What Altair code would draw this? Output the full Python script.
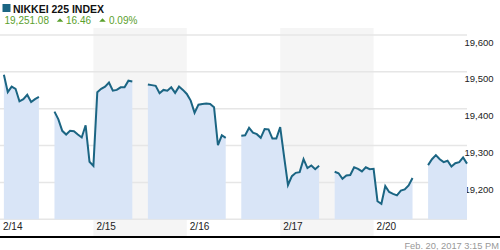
import altair as alt
import pandas as pd

# ---- data ----
DAYS = ["2/14", "2/15", "2/16", "2/17", "2/20"]
AM_TIMES = ["09:15", "09:30", "09:45", "10:00", "10:15", "10:30", "10:45", "11:00", "11:15", "11:30"]
PM_TIMES = ["12:30", "12:45", "13:00", "13:15", "13:30", "13:45", "14:00", "14:15", "14:30", "14:45", "15:00"]

AM_0214 = [19492, 19445, 19460, 19454, 19420, 19426, 19438, 19418, 19426, 19432]
PM_0214 = [19392, 19371, 19340, 19330, 19340, 19339, 19330, 19322, 19355, 19256, 19245]
AM_0215 = [19445, 19454, 19460, 19471, 19449, 19451, 19458, 19458, 19476, 19474]
PM_0215 = [19466, 19464, 19462, 19442, 19451, 19449, 19458, 19443, 19460, 19451, 19440]
AM_0216 = [19422, 19389, 19411, 19413, 19414, 19413, 19404, 19301, 19328, 19321]
PM_0216 = [19327, 19328, 19348, 19335, 19331, 19321, 19345, 19344, 19319, 19319, 19350]
AM_0217 = [19270, 19193, 19217, 19226, 19228, 19263, 19239, 19246, 19236, 19245]
PM_0217 = [19229, 19225, 19210, 19219, 19220, 19241, 19237, 19230, 19241, 19236, 19237]
AM_0220 = [19149, 19142, 19190, 19174, 19169, 19165, 19178, 19181, 19192, 19212]
PM_0220 = [19247, 19263, 19274, 19263, 19255, 19259, 19243, 19252, 19255, 19268, 19251]

AM_SESSIONS = [AM_0214, AM_0215, AM_0216, AM_0217, AM_0220]
PM_SESSIONS = [PM_0214, PM_0215, PM_0216, PM_0217, PM_0220]

GRID_VALUES = [19100, 19200, 19300, 19400, 19500, 19600]
LABEL_VALUES = [19200, 19300, 19400, 19500, 19600]
BASE = 19100
SHADED_DAYS = ["2/15", "2/17"]

TITLE = "NIKKEI 225 INDEX"
LAST = "19,251.08"
CHG = "16.46"
PCT = "0.09%"
STAMP = "Feb. 20, 2017 3:15 PM"

LINE_C = "#1b6583"
FILL_C = "#d9e5f7"
GREEN = "#5aa02c"

# ---- build table: trading-hours axis (each day 9:00-15:00) ----
def hrs(t):
    h, m = t.split(":")
    return int(h) + int(m) / 60 - 9

rows = []
for di, day in enumerate(DAYS):
    for t, v in zip(AM_TIMES, AM_SESSIONS[di]):
        rows.append({"pos": di * 6 + hrs(t), "value": v, "seg": di})
    for t, v in zip(PM_TIMES, PM_SESSIONS[di]):
        rows.append({"pos": di * 6 + hrs(t), "value": v, "seg": di + 1})
df = pd.DataFrame(rows)

days_df = pd.DataFrame({"day": DAYS, "start": [i * 6 for i in range(len(DAYS))],
                        "end": [i * 6 + 6 for i in range(len(DAYS))]})
shade_df = days_df[days_df["day"].isin(SHADED_DAYS)]

xscale = alt.Scale(domain=[0, 30], nice=False, zero=False)
yscale = alt.Scale(domain=[19054.7, 19619], nice=False, zero=False)

bands = alt.Chart(shade_df).mark_rect(color="#f5f5f5").encode(
    x=alt.X("start:Q", scale=xscale, axis=None), x2="end:Q")

grid = alt.Chart(pd.DataFrame({"v": GRID_VALUES})).mark_rule(color="#e6e6e6", strokeWidth=1.5).encode(
    y=alt.Y("v:Q", scale=yscale,
            axis=alt.Axis(orient="right", values=LABEL_VALUES, format=",d", grid=False, domain=False,
                          ticks=False, labelAlign="right", labelPadding=26, labelBaseline="top",
                          labelOffset=2, labelFontSize=9.5, labelFont="Liberation Sans",
                          labelColor="#222", title=None)))

area = alt.Chart(df).mark_area(color=FILL_C).encode(
    x=alt.X("pos:Q", scale=xscale, axis=None),
    y=alt.Y("value:Q", scale=yscale),
    y2=alt.datum(BASE),
    detail="seg:N")

line = alt.Chart(df).mark_line(color=LINE_C, strokeWidth=2).encode(
    x=alt.X("pos:Q", scale=xscale, axis=None),
    y=alt.Y("value:Q", scale=yscale),
    detail="seg:N")

day_labels = alt.Chart(days_df).mark_text(align="left", baseline="top", dx=3, fontSize=10,
                                          font="Liberation Sans", color="#222").encode(
    x=alt.X("start:Q", scale=xscale, axis=None), y=alt.value(193.5), text="day:N")

one = pd.DataFrame({"a": [0]})
bottom_rule = alt.Chart(one).mark_rule(color="black", strokeWidth=2).encode(
    x=alt.value(0), x2=alt.value(500), y=alt.value(209))

square = alt.Chart(one).mark_square(color=LINE_C, size=64, opacity=1).encode(
    x=alt.value(6.5), y=alt.value(-20))
title = alt.Chart(one).mark_text(text=TITLE, align="left", baseline="alphabetic", fontSize=10.5,
                                 fontWeight="bold", font="Liberation Sans", color="#111").encode(
    x=alt.value(13), y=alt.value(-15.5))
last = alt.Chart(one).mark_text(text=LAST, align="left", baseline="alphabetic", fontSize=10,
                                font="Liberation Sans", color=GREEN).encode(
    x=alt.value(4.5), y=alt.value(-4))
tri_shape = "M-1,0.55L1,0.55L0,-0.55Z"
tri1 = alt.Chart(one).mark_point(shape=tri_shape, filled=True, size=42, color=GREEN, opacity=1).encode(
    x=alt.value(60), y=alt.value(-8))
chg = alt.Chart(one).mark_text(text=CHG, align="left", baseline="alphabetic", fontSize=10,
                               font="Liberation Sans", color=GREEN).encode(
    x=alt.value(66), y=alt.value(-4))
tri2 = alt.Chart(one).mark_point(shape=tri_shape, filled=True, size=42, color=GREEN, opacity=1).encode(
    x=alt.value(102.5), y=alt.value(-8))
pct = alt.Chart(one).mark_text(text=PCT, align="left", baseline="alphabetic", fontSize=10,
                               font="Liberation Sans", color=GREEN).encode(
    x=alt.value(109), y=alt.value(-4))
stamp = alt.Chart(one).mark_text(text=STAMP, align="right", baseline="alphabetic", fontSize=9.3,
                                 font="Liberation Sans", color="#999").encode(
    x=alt.value(499), y=alt.value(220.5))

chart = alt.layer(bands, grid, area, line, day_labels, bottom_rule, square, title, last, tri1, chg,
                  tri2, pct, stamp).properties(
    width=467, height=208,
    autosize=alt.AutoSizeParams(type="none"),
    padding={"left": 0, "top": 28, "right": 33, "bottom": 14},
).configure_view(strokeWidth=0)

chart.save("out.html", embed_options={"renderer": "svg", "actions": False})
